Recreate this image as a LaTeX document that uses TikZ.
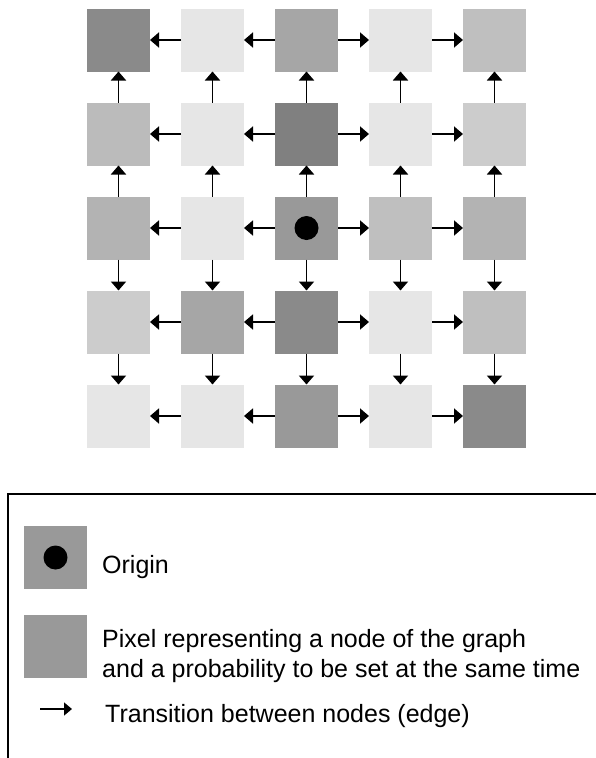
\documentclass[tikz,border=0pt]{standalone}
\usepackage{fontspec}
\setmainfont{Liberation Sans}
\usetikzlibrary{arrows.meta}
\definecolor{gA}{HTML}{8A8A8A}
\definecolor{gB}{HTML}{E6E6E6}
\definecolor{gC}{HTML}{A6A6A6}
\definecolor{gD}{HTML}{BFBFBF}
\definecolor{gE}{HTML}{BBBBBB}
\definecolor{gF}{HTML}{808080}
\definecolor{gG}{HTML}{CCCCCC}
\definecolor{gH}{HTML}{B3B3B3}
\definecolor{gI}{HTML}{999999}
\tikzset{
  sq/.style={rectangle, minimum size=63pt, inner sep=0pt, outer sep=0pt, draw=none},
  arr/.style={line width=1.8pt, -{Triangle[length=9pt,width=15pt]}},
  legarr/.style={line width=1.5pt, -{Triangle[length=8pt,width=13pt]}},
  dot/.style={circle, fill=black, minimum size=24pt, inner sep=0pt, outer sep=0pt},
  txt/.style={anchor=base west, inner sep=0pt, font=\fontsize{25}{30}\selectfont}
}
\begin{document}
\begin{tikzpicture}[x=1pt,y=-1pt]
\useasboundingbox (0,0) rectangle (596,758);
\clip (0,0) rectangle (596,758);
% grid colours row by row
\foreach \c [count=\k from 0] in {gA,gB,gC,gB,gD, gE,gB,gF,gB,gG, gH,gB,gI,gD,gH, gG,gC,gA,gB,gD, gB,gB,gI,gB,gA}{
  \pgfmathtruncatemacro{\i}{mod(\k,5)}
  \pgfmathtruncatemacro{\j}{int(\k/5)}
  \node[sq, fill=\c] (n\i\j) at ({118.5+94*\i},{40+94*\j}) {};
}
\node[dot] (origin) at (n22) {};
% horizontal edges: outward from centre column
\foreach \j in {0,...,4}{
  \draw[arr] (n2\j) -- (n1\j);
  \draw[arr] (n1\j) -- (n0\j);
  \draw[arr] (n2\j) -- (n3\j);
  \draw[arr] (n3\j) -- (n4\j);
}
% vertical edges
\foreach \i in {0,...,4}{
  \draw[arr] (n\i1) -- (n\i0);
  \draw[arr] (n\i2) -- (n\i1);
  \draw[arr] (n\i2) -- (n\i3);
  \draw[arr] (n\i3) -- (n\i4);
}
% legend
\draw[line width=2pt] (8,494) rectangle (620,780);
\node[sq, fill=gI] (l1) at (55.5,557.5) {};
\node[dot] (ldot) at (l1) {};
\node[sq, fill=gI] (l2) at (55.5,646.5) {};
\node[txt] (t1) at (102,573) {Origin};
\node[txt] (t2) at (102,647) {Pixel representing a node of the graph};
\node[txt] (t3) at (102,677) {and a probability to be set at the same time};
\coordinate (la) at (40,709);
\coordinate (lb) at (72,709);
\draw[legarr] (la) -- (lb);
\node[txt] (t4) at (105,722) {Transition between nodes (edge)};
\end{tikzpicture}
\end{document}
